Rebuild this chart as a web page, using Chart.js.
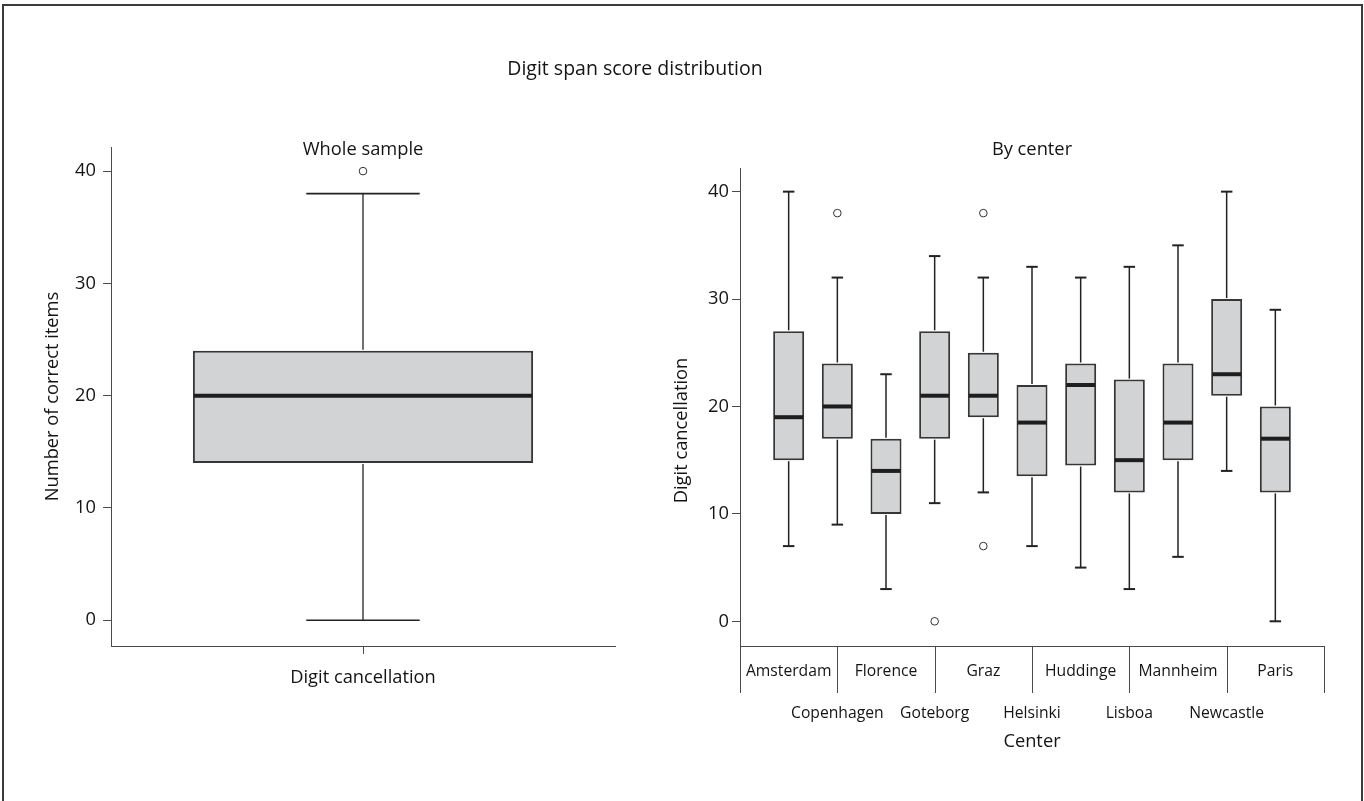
<!DOCTYPE html>
<html>
<head>
<meta charset="utf-8">
<title>Digit span score distribution</title>
<script src="https://cdn.jsdelivr.net/npm/chart.js@4.4.1/dist/chart.umd.min.js"></script>
<style>
  html, body { margin: 0; padding: 0; background: #ffffff; }
  #page { position: absolute; left: 0; top: 0; width: 1364px; height: 801px; overflow: hidden; }
  #frame { position: absolute; left: 2px; top: 4px; width: 1361px; height: 820px;
           border: 2px solid #3c3c3c; border-bottom: none; box-sizing: border-box; }
  canvas { position: absolute; left: 0; top: 0; }
</style>
</head>
<body>
<div id="page">
  <div id="frame"></div>
  <canvas id="wholeChart" width="1364" height="801"></canvas>
  <canvas id="centerChart" width="1364" height="801"></canvas>
</div>
<script>
// ---- Whole sample ----
const wholeLabel = 'Digit cancellation';
const wholeLow = [0];
const wholeQ1 = [14];
const wholeMedian = [20];
const wholeQ3 = [24];
const wholeHigh = [38];
const wholeOutliers = [40];

// ---- By center ----
const centers = ['Amsterdam', 'Copenhagen', 'Florence', 'Goteborg', 'Graz', 'Helsinki',
                 'Huddinge', 'Lisboa', 'Mannheim', 'Newcastle', 'Paris'];
const centerLow = [7, 9, 3, 11, 12, 7, 5, 3, 6, 14, 0];
const centerQ1 = [15, 17, 10, 17, 19, 13.5, 14.5, 12, 15, 21, 12];
const centerMedian = [19, 20, 14, 21, 21, 18.5, 22, 15, 18.5, 23, 17];
const centerQ3 = [27, 24, 17, 27, 25, 22, 24, 22.5, 24, 30, 20];
const centerHigh = [40, 32, 23, 34, 32, 33, 32, 33, 35, 40, 29];
const outlierCenters = ['Copenhagen', 'Goteborg', 'Graz', 'Graz'];
const outlierValues = [38, 0, 38, 7];

const yTicks = [0, 10, 20, 30, 40];

const FONT = 'Open Sans';
const INK = '#141414';
const AXIS = '#4a4a4a';
const BOX_FILL = '#d1d3d4';
const BOX_EDGE = '#363636';

Chart.defaults.font.family = FONT;
Chart.defaults.color = INK;

// Whiskers, caps and medians, placed with the chart's own scales
const boxWhiskers = {
  id: 'boxWhiskers',
  afterDatasetsDraw(chart, args, opts) {
    const { ctx } = chart;
    const ys = chart.scales.y;
    const meta = chart.getDatasetMeta(0);
    const line = (x1, y1, x2, y2) => { ctx.beginPath(); ctx.moveTo(x1, y1); ctx.lineTo(x2, y2); ctx.stroke(); };
    ctx.save();
    meta.data.forEach((bar, i) => {
      const { x, width } = bar.getProps(['x', 'width'], true);
      const half = width / 2;
      const cap = half * opts.capRatio;
      const yQ1 = ys.getPixelForValue(opts.q1[i]);
      const yQ3 = ys.getPixelForValue(opts.q3[i]);
      const yLo = ys.getPixelForValue(opts.low[i]);
      const yHi = ys.getPixelForValue(opts.high[i]);
      const yMed = ys.getPixelForValue(opts.median[i]);
      ctx.strokeStyle = '#222222';
      ctx.lineWidth = opts.whiskerWidth;
      line(x, yQ3 - 1, x, yHi);
      line(x, yQ1 + 1, x, yLo);
      ctx.lineWidth = opts.capWidth;
      line(x - cap, yHi, x + cap, yHi);
      line(x - cap, yLo, x + cap, yLo);
      ctx.strokeStyle = '#1e1e1e';
      ctx.lineWidth = opts.medianWidth;
      line(x - half + 1, yMed, x + half - 1, yMed);
    });
    ctx.restore();
  }
};

// Free text: titles and labels that sit outside Chart.js' own boxes
const freeText = {
  id: 'freeText',
  afterDraw(chart, args, opts) {
    const { ctx } = chart;
    ctx.save();
    ctx.fillStyle = INK;
    ctx.textAlign = 'center';
    (opts.items || []).forEach(t => {
      const pos = typeof t.at === 'function' ? t.at(chart) : t.at;
      ctx.font = `${t.size}px "${FONT}"`;
      ctx.textBaseline = t.baseline || 'alphabetic';
      ctx.save();
      ctx.translate(pos.x, pos.y);
      if (t.rotate) ctx.rotate(t.rotate);
      ctx.fillText(t.text, 0, 0);
      ctx.restore();
    });
    ctx.restore();
  }
};

// Bracket lines separating the staggered center names
const centerDividers = {
  id: 'centerDividers',
  afterDraw(chart, args, opts) {
    const { ctx } = chart;
    const xs = chart.scales.x;
    const top = chart.chartArea.bottom;
    ctx.save();
    ctx.strokeStyle = AXIS;
    ctx.lineWidth = 1;
    for (let v = -1; v <= centers.length; v += 2) {
      const px = Math.round(xs.getPixelForValue(v)) + 0.5;
      ctx.beginPath();
      ctx.moveTo(px, top);
      ctx.lineTo(px, top + opts.length);
      ctx.stroke();
    }
    ctx.restore();
  }
};

const pointStyle = {
  pointRadius: 3.8,
  pointBackgroundColor: '#ffffff',
  pointBorderColor: '#333333',
  pointBorderWidth: 1,
  pointHoverRadius: 3.8
};

const boxStyle = {
  backgroundColor: BOX_FILL,
  borderColor: BOX_EDGE,
  borderWidth: 2,
  borderSkipped: false,
  categoryPercentage: 1
};

// ---------- Left panel: whole sample ----------
new Chart(document.getElementById('wholeChart'), {
  type: 'bar',
  data: {
    datasets: [
      {
        ...boxStyle,
        barPercentage: 0.675,
        data: wholeQ1.map((q, i) => ({ x: i, y: [q, wholeQ3[i]] }))
      },
      {
        type: 'scatter',
        ...pointStyle,
        data: wholeOutliers.map(v => ({ x: 0, y: v }))
      }
    ]
  },
  options: {
    responsive: false,
    animation: false,
    events: [],
    layout: { padding: { left: 0, right: 749, top: 147, bottom: 0 } },
    plugins: {
      legend: { display: false },
      tooltip: { enabled: false },
      boxWhiskers: { low: wholeLow, q1: wholeQ1, median: wholeMedian, q3: wholeQ3, high: wholeHigh,
                     capRatio: 1 / 3, whiskerWidth: 1.3, capWidth: 1.6, medianWidth: 4 },
      freeText: {
        items: [
          { text: 'Digit span score distribution', size: 19.5, at: { x: 635, y: 75 } },
          { text: 'Whole sample', size: 18.3,
            at: c => ({ x: (c.chartArea.left + c.chartArea.right) / 2, y: 155 }) }
        ]
      }
    },
    scales: {
      x: {
        type: 'linear',
        min: -1,
        max: 1,
        offset: false,
        afterFit: s => { s.height = 155; },
        afterBuildTicks: s => { s.ticks = [{ value: 0 }]; },
        grid: { display: true, offset: false, drawOnChartArea: false, drawTicks: true,
                tickLength: 8, color: AXIS, tickColor: AXIS },
        border: { display: true, color: AXIS, width: 1 },
        ticks: { callback: () => wholeLabel, font: { size: 18.3 }, padding: 13,
                 maxRotation: 0, minRotation: 0, autoSkip: false, color: INK }
      },
      y: {
        min: -2.3,
        max: 42.15,
        afterFit: s => { s.width = 111; },
        afterBuildTicks: s => { s.ticks = yTicks.map(v => ({ value: v })); },
        grid: { display: true, drawOnChartArea: false, drawTicks: true, tickLength: 8,
                color: AXIS, tickColor: AXIS },
        border: { display: true, color: AXIS, width: 1 },
        ticks: { font: { size: 18.3 }, padding: 7, color: INK },
        title: { display: true, text: 'Number of correct items', font: { size: 18.3 },
                 padding: { top: 42, bottom: 0 }, color: INK }
      }
    }
  },
  plugins: [boxWhiskers, freeText]
});

// ---------- Right panel: by center ----------
new Chart(document.getElementById('centerChart'), {
  type: 'bar',
  data: {
    datasets: [
      {
        ...boxStyle,
        barPercentage: 0.637,
        data: centers.map((c, i) => ({ x: i, y: [centerQ1[i], centerQ3[i]] }))
      },
      {
        type: 'scatter',
        ...pointStyle,
        data: outlierCenters.map((c, i) => ({ x: centers.indexOf(c), y: outlierValues[i] }))
      }
    ]
  },
  options: {
    responsive: false,
    animation: false,
    events: [],
    layout: { padding: { left: 660, right: 40, top: 168, bottom: 0 } },
    plugins: {
      legend: { display: false },
      tooltip: { enabled: false },
      boxWhiskers: { low: centerLow, q1: centerQ1, median: centerMedian, q3: centerQ3, high: centerHigh,
                     capRatio: 0.37, whiskerWidth: 1.5, capWidth: 2, medianWidth: 4 },
      centerDividers: { length: 47 },
      freeText: {
        items: [
          { text: 'By center', size: 18.3,
            at: c => ({ x: (c.chartArea.left + c.chartArea.right) / 2, y: 155 }) },
          { text: 'Digit cancellation', size: 18.3, baseline: 'middle', rotate: -Math.PI / 2,
            at: c => ({ x: 682, y: (c.chartArea.top + c.chartArea.bottom + 47) / 2 }) }
        ]
      }
    },
    scales: {
      x: {
        type: 'linear',
        min: -1,
        max: centers.length,
        offset: false,
        afterFit: s => { s.height = 155; },
        afterBuildTicks: s => { s.ticks = centers.map((c, i) => ({ value: i })); },
        grid: { display: false, offset: false },
        border: { display: true, color: AXIS, width: 1 },
        ticks: {
          callback: v => (v % 2 === 0 ? [centers[v], ''] : ['', centers[v]]),
          font: { size: 15.7, lineHeight: 42 / 15.7 },
          padding: -3, maxRotation: 0, minRotation: 0, autoSkip: false, color: INK
        },
        title: { display: true, text: 'Center', font: { size: 18.3 },
                 padding: { top: 0, bottom: 48 }, color: INK }
      },
      y: {
        min: -2.3,
        max: 42.2,
        afterFit: s => { s.width = 80; },
        afterBuildTicks: s => { s.ticks = yTicks.map(v => ({ value: v })); },
        grid: { display: true, drawOnChartArea: false, drawTicks: true, tickLength: 8,
                color: AXIS, tickColor: AXIS },
        border: { display: true, color: AXIS, width: 1 },
        ticks: { font: { size: 18.3 }, padding: 3, color: INK }
      }
    }
  },
  plugins: [boxWhiskers, centerDividers, freeText]
});
</script>
</body>
</html>
